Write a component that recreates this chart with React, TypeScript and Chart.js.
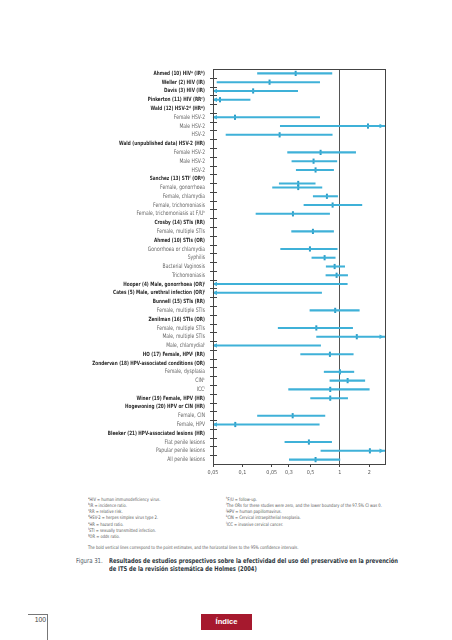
import React, { useEffect, useRef } from "react";
import { Chart, registerables } from "chart.js";

Chart.register(...registerables);

// ---------- data ----------
const ROW_LABELS = [
  "Ahmed (10) HIVᵃ (IRᵇ)",
  "Weller (2) HIV (IR)",
  "Davis (3) HIV (IR)",
  "Pinkerton (11) HIV (RRᶜ)",
  "Wald (12) HSV-2ᵈ (HRᵉ)",
  "Female HSV-2",
  "Male HSV-2",
  "HSV-2",
  "Wald (unpublished data) HSV-2 (HR)",
  "Female HSV-2",
  "Male HSV-2",
  "HSV-2",
  "Sanchez (13) STIᶠ (ORᵍ)",
  "Female, gonorrhoea",
  "Female, chlamydia",
  "Female, trichomoniasis",
  "Female, trichomoniasis at F/Uʰ",
  "Crosby (14) STIs (RR)",
  "Female, multiple STIs",
  "Ahmed (10) STIs (OR)",
  "Gonorrhoea or chlamydia",
  "Syphilis",
  "Bacterial Vaginosis",
  "Trichomoniasis",
  "Hooper (4) Male, gonorrhoea (OR)ⁱ",
  "Cates (5) Male, urethral infection (OR)ⁱ",
  "Bunnell (15) STIs (RR)",
  "Female, multiple STIs",
  "Zenilman (16) STIs (OR)",
  "Female, multiple STIs",
  "Male, multiple STIs",
  "Male, chlamydialⁱ",
  "HO (17) Female, HPVʲ (RR)",
  "Zondervan (18) HPV-associated conditions (OR)",
  "Female, dysplasia",
  "CINᵏ",
  "ICCˡ",
  "Winer (19) Female, HPV (HR)",
  "Hogewoning (20) HPV or CIN (HR)",
  "Female, CIN",
  "Female, HPV",
  "Bleeker (21) HPV-associated lesions (HR)",
  "Flat penile lesions",
  "Papular penile lesions",
  "All penile lesions",
];

const IS_STUDY = [
  true, true, true, true, true, false, false, false, true, false, false, false,
  true, false, false, false, false, true, false, true, false, false, false, false,
  true, true, true, false, true, false, false, false, true, true, false, false,
  false, true, true, false, false, true, false, false, false,
];

// lower bound of CI (0 = study reported zero), point estimate, upper bound; null = heading row
const CI_LOW = [
  0.143, 0.055, 0.03, 0.03, null, 0.03, 0.245, 0.068, null, 0.291, 0.322, 0.357,
  null, 0.204, 0.533, 0.428, 0.138, null, 0.32, null, 0.247, 0.516, 0.724, 0.719,
  0, 0, null, 0.493, null, 0.233, 0.577, 0, 0.396, null, 0.69, 0.79,
  0.298, 0.501, null, 0.143, 0.03, null, 0.273, 0.639, 0.303,
];
const ESTIMATE = [
  0.352, 0.19, 0.129, 0.059, null, 0.084, 1.94, 0.241, null, 0.634, 0.537, 0.563,
  null, 0.374, 0.736, 0.842, 0.33, null, 0.529, null, 0.493, 0.697, 0.883, 0.925,
  0, 0, null, 0.895, null, 0.573, 1.49, 0, 0.79, null, 1.0, 1.2,
  0.796, 0.796, null, 0.328, 0.0846, null, 0.481, 2.03, 0.563,
];
const CI_HIGH = [
  0.828, 0.62, 0.369, 0.12, null, 0.62, 4.0, 0.834, null, 1.45, 0.93, 0.861,
  null, 0.654, 0.947, 1.68, 0.784, null, 0.861, null, 0.938, 0.895, 1.12, 1.2,
  1.19, 0.649, null, 1.58, null, 1.35, 4.0, 0.634, 1.37, null, 1.39, 1.8,
  2.0, 1.2, null, 0.702, 0.614, null, 0.822, 4.0, 1.0,
];

// a second interval drawn in the "Female, gonorrhoea" row
const EXTRA_ROW = [14];
const EXTRA_LOW = [0.239];
const EXTRA_EST = [0.374];
const EXTRA_HIGH = [0.558];

const X_TICKS = [0.05, 0.1, 0.2, 0.3, 0.5, 1, 2];
const X_TICK_LABELS = ["0,05", "0,1", "0,05", "0,3", "0,5", "1", "2"];
const X_MIN = 0.05;
const X_MAX = 2.9;

const NOTES_LEFT = [
  ["a", "HIV = human immunodeficiency virus."],
  ["b", "IR = incidence ratio."],
  ["c", "RR = relative risk."],
  ["d", "HSV-2 = herpes simplex virus type 2."],
  ["e", "HR = hazard ratio."],
  ["f", "STI = sexually transmitted infection."],
  ["g", "OR = odds ratio."],
];
const NOTES_RIGHT = [
  ["h", "F/U = follow-up."],
  ["i", "The ORs for these studies were zero, and the lower boundary of the 97.5% CI was 0."],
  ["j", "HPV = human papillomavirus."],
  ["k", "CIN = Cervical intraepithelial neoplasia."],
  ["l", "ICC = invasive cervical cancer."],
];

// ---------- styling ----------
const FONT =
  "'Liberation Sans Narrow', 'DejaVu Sans Condensed', 'Roboto Condensed', 'Liberation Sans', sans-serif";
const BAR_COLOR = "#3fb1d8";
const MARK_COLOR = "#2b9cc6";
const AXIS_COLOR = "#444";
const LABEL_PAD = 8;
const LABEL_SQUEEZE = 0.82;

function Note({ s, t }: { s: string; t: string }) {
  return (
    <div style={{ height: 6.3, lineHeight: "6.3px", whiteSpace: "nowrap" }}>
      <span style={{ fontSize: 3.2, verticalAlign: 1.6 }}>{s}</span>
      {t}
    </div>
  );
}

export default function App() {
  const canvasRef = useRef<HTMLCanvasElement | null>(null);

  useEffect(() => {
    const canvas = canvasRef.current;
    if (!canvas) return;

    const clampLo = (v: number) => Math.max(v, X_MIN * 0.5);
    const clampHi = (v: number) => Math.min(v, X_MAX * 2);

    const bars: any[] = [];
    const marks: any[] = [];
    const arrows: { y: number; left: boolean; right: boolean }[] = [];
    ROW_LABELS.forEach((_, i) => {
      const lo = CI_LOW[i];
      const hi = CI_HIGH[i];
      const est = ESTIMATE[i];
      if (lo == null || hi == null || est == null) return;
      const y = i + 1;
      bars.push({ y, x: [clampLo(lo), clampHi(hi)] });
      marks.push({ y, x: est <= 0 ? X_MIN : est });
      arrows.push({ y, left: lo < X_MIN, right: hi > X_MAX });
    });
    EXTRA_ROW.forEach((row, k) => {
      const y = row - 0.46;
      bars.push({ y, x: [clampLo(EXTRA_LOW[k]), clampHi(EXTRA_HIGH[k])] });
      marks.push({ y, x: EXTRA_EST[k] });
      arrows.push({ y, left: EXTRA_LOW[k] < X_MIN, right: EXTRA_HIGH[k] > X_MAX });
    });

    const framePlugin = {
      id: "frame",
      afterDatasetsDraw(chart: any) {
        const { ctx, chartArea } = chart;
        const ys = chart.scales.y;
        const { left, right, top, bottom } = chartArea;
        ctx.save();
        ctx.fillStyle = BAR_COLOR;
        arrows.forEach((a) => {
          const py = ys.getPixelForValue(a.y);
          if (a.left) {
            ctx.beginPath();
            ctx.moveTo(left - 0.5, py);
            ctx.lineTo(left + 4, py - 2.3);
            ctx.lineTo(left + 4, py + 2.3);
            ctx.closePath();
            ctx.fill();
          }
          if (a.right) {
            ctx.beginPath();
            ctx.moveTo(right - 1, py);
            ctx.lineTo(right - 5.5, py - 2.3);
            ctx.lineTo(right - 5.5, py + 2.3);
            ctx.closePath();
            ctx.fill();
          }
        });
        ctx.strokeStyle = AXIS_COLOR;
        ctx.lineWidth = 1;
        ctx.strokeRect(
          Math.round(left) + 0.5,
          Math.round(top) + 0.5,
          Math.round(right - left),
          Math.round(bottom - top)
        );
        ctx.beginPath();
        for (let i = 1; i < ROW_LABELS.length; i++) {
          const py = Math.round(ys.getPixelForValue(i + 0.5)) + 0.5;
          ctx.moveTo(left - 3, py);
          ctx.lineTo(left + 4, py);
        }
        ctx.stroke();
        ctx.restore();
      },
    };

    const chart = new Chart(canvas, {
      type: "bar",
      data: {
        datasets: [
          {
            type: "bar",
            data: bars,
            backgroundColor: BAR_COLOR,
            borderWidth: 0,
            barThickness: 1.4,
          } as any,
          {
            type: "scatter",
            data: marks,
            pointStyle: "line",
            rotation: 90,
            radius: 2.6,
            borderWidth: 2,
            borderColor: MARK_COLOR,
            backgroundColor: MARK_COLOR,
          } as any,
        ],
      },
      options: {
        indexAxis: "y",
        animation: false,
        responsive: false,
        maintainAspectRatio: false,
        layout: { padding: { left: 0, right: 67, top: 14, bottom: 0 } },
        plugins: { legend: { display: false }, tooltip: { enabled: false } },
        scales: {
          x: {
            type: "logarithmic",
            min: X_MIN,
            max: X_MAX,
            afterBuildTicks: (scale: any) => {
              scale.ticks = X_TICKS.map((v) => ({ value: v }));
            },
            afterFit: (scale: any) => {
              scale.height = 15;
            },
            grid: {
              color: (ctx: any) => (ctx.tick && ctx.tick.value === 1 ? "#555" : "rgba(0,0,0,0)"),
              tickColor: AXIS_COLOR,
              tickLength: 3,
              lineWidth: 1,
            },
            border: { display: false },
            ticks: {
              autoSkip: false,
              maxRotation: 0,
              padding: 2,
              color: "#555",
              font: { family: FONT, size: 5.4 },
              callback: (_v: any, idx: number) => X_TICK_LABELS[idx],
            },
          },
          y: {
            type: "linear",
            reverse: true,
            min: 0.5,
            max: 45.5,
            offset: false,
            afterBuildTicks: (scale: any) => {
              scale.ticks = ROW_LABELS.map((_, i) => ({ value: i + 1 }));
            },
            afterFit: (scale: any) => {
              scale.width = 213;
            },
            afterUpdate: (scale: any) => {
              if (scale.__squeezed) return;
              scale.__squeezed = true;
              const orig = scale.drawLabels.bind(scale);
              scale.drawLabels = (area: any) => {
                const c = scale.ctx;
                const ax = scale.right - LABEL_PAD;
                c.save();
                c.translate(ax, 0);
                c.scale(LABEL_SQUEEZE, 1);
                c.translate(-ax, 0);
                orig(area);
                c.restore();
              };
            },
            grid: { display: false, drawTicks: false },
            border: { display: false },
            ticks: {
              autoSkip: false,
              padding: LABEL_PAD,
              color: (ctx: any) => (IS_STUDY[ctx.index] ? "#2a2a2a" : "#666"),
              font: (ctx: any) => ({
                family: FONT,
                size: IS_STUDY[ctx.index] ? 5.7 : 6.1,
                weight: IS_STUDY[ctx.index] ? "bold" : "normal",
              }),
              callback: (v: any) => ROW_LABELS[Math.round(v) - 1],
            },
          },
        },
      },
      plugins: [framePlugin],
    });

    return () => chart.destroy();
  }, []);

  const squeeze = (k: number) => ({ transform: `scaleX(${k})`, transformOrigin: "left top" });

  return (
    <div
      style={{
        position: "absolute",
        left: 0,
        top: 0,
        width: 452,
        height: 640,
        background: "#fff",
        fontFamily: FONT,
        overflow: "hidden",
      }}
    >
      <canvas
        ref={canvasRef}
        width={452}
        height={424}
        style={{ position: "absolute", left: 0, top: 55, width: 452, height: 424 }}
      />

      <div style={{ position: "absolute", left: 88, top: 494.5, fontSize: 4.7, color: "#555", ...squeeze(0.87) }}>
        {NOTES_LEFT.map(([s, t]) => (
          <Note key={s} s={s} t={t} />
        ))}
      </div>
      <div style={{ position: "absolute", left: 226, top: 494.5, fontSize: 4.7, color: "#555", ...squeeze(0.87) }}>
        {NOTES_RIGHT.map(([s, t]) => (
          <Note key={s} s={s} t={t} />
        ))}
      </div>
      <div
        style={{
          position: "absolute",
          left: 88,
          top: 545.3,
          fontSize: 4.7,
          lineHeight: "6px",
          color: "#555",
          whiteSpace: "nowrap",
          ...squeeze(0.87),
        }}
      >
        The bold vertical lines correspond to the point estimates, and the horizontal lines to the 95% confidence intervals.
      </div>

      <div
        style={{
          position: "absolute",
          left: 76,
          top: 557,
          fontSize: 6.8,
          lineHeight: "8.3px",
          color: "#4f5b66",
          whiteSpace: "nowrap",
          ...squeeze(0.88),
        }}
      >
        Figura 31.
      </div>
      <div
        style={{
          position: "absolute",
          left: 109,
          top: 557,
          fontSize: 6.6,
          lineHeight: "8.3px",
          color: "#2f3840",
          fontWeight: "bold",
          whiteSpace: "nowrap",
          ...squeeze(0.87),
        }}
      >
        Resultados de estudios prospectivos sobre la efectividad del uso del preservativo en la prevención
        <br />
        de ITS de la revisión sistemática de Holmes (2004)
      </div>

      <div
        style={{
          position: "absolute",
          left: 28,
          top: 614,
          width: 18,
          height: 30,
          borderTop: "1px solid #777",
          borderRight: "1px solid #777",
          fontFamily: "'Liberation Sans', Arial, sans-serif",
          fontSize: 6.8,
          color: "#444",
          textAlign: "right",
          paddingRight: 1,
          lineHeight: "9px",
        }}
      >
        100
      </div>

      <div
        style={{
          position: "absolute",
          left: 201,
          top: 614,
          width: 51,
          height: 16,
          background: "#a6192e",
          color: "#fff",
          fontFamily: "'Liberation Sans', Arial, sans-serif",
          fontSize: 7.6,
          fontWeight: 600,
          lineHeight: "16px",
          textAlign: "center",
        }}
      >
        Índice
      </div>
    </div>
  );
}
